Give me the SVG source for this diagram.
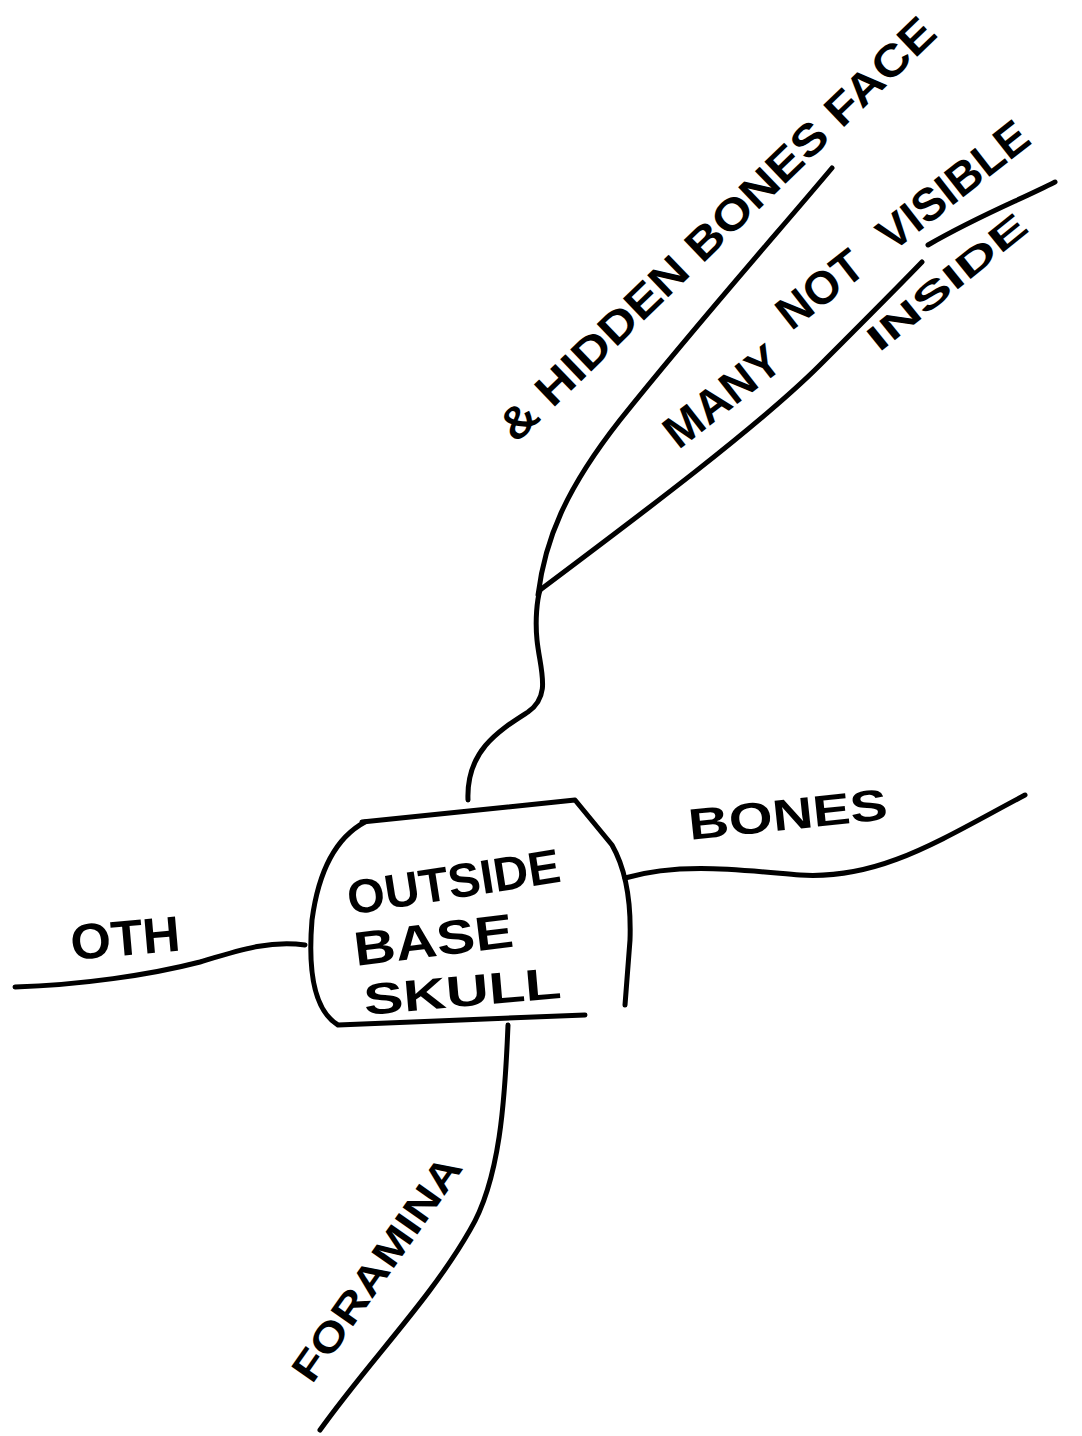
<svg xmlns="http://www.w3.org/2000/svg" width="1082" height="1436" viewBox="0 0 1082 1436">
<style>
.ln{fill:none;stroke:#000;stroke-width:5;stroke-linecap:round;stroke-linejoin:round}
.t{font-family:"Liberation Sans","DejaVu Sans",sans-serif;font-weight:bold;fill:#000}
</style>
<rect width="1082" height="1436" fill="#fff"/>
<g id="connectors">
<path class="ln" d="M 468 800 C 466 750 500 730 528 712 C 552 695 540 670 537 640 C 535 620 537 600 540 590"/>
<path class="ln" d="M 538 595 C 545 540 565 490 620 420 C 700 320 780 230 832 168"/>
<path class="ln" d="M 540 590 C 640 515 760 425 820 365 C 860 325 895 290 922 262"/>
<path class="ln" d="M 928 245 C 980 215 1020 200 1055 182"/>
<path class="ln" d="M 625 878 C 680 862 740 870 800 875 C 880 880 940 840 1025 795"/>
<path class="ln" d="M 305 945 C 270 940 240 950 200 962 C 150 975 80 985 15 987"/>
<path class="ln" d="M 508 1025 C 505 1100 500 1180 470 1230 C 430 1300 370 1360 320 1430"/>
</g>
<g id="center">
<path class="ln" d="M 362 822 L 575 800 L 612 845 Q 632 880 630 940 L 625 1005"/>
<path class="ln" d="M 365 822 Q 322 845 312 920 Q 305 1005 338 1025 L 585 1015"/>
<text class="t" font-size="48" transform="translate(350,915) rotate(-9)" textLength="215" lengthAdjust="spacingAndGlyphs">OUTSIDE</text>
<text class="t" font-size="48" transform="translate(356,966) rotate(-7)" textLength="160" lengthAdjust="spacingAndGlyphs">BASE</text>
<text class="t" font-size="44" transform="translate(365,1015) rotate(-5)" textLength="198" lengthAdjust="spacingAndGlyphs">SKULL</text>
</g>
<g id="oth"><text class="t" font-size="50" transform="translate(72,960) rotate(-5)" textLength="110" lengthAdjust="spacingAndGlyphs">OTH</text></g>
<g id="bones"><text class="t" font-size="44" transform="translate(690,840) rotate(-6)" textLength="200" lengthAdjust="spacingAndGlyphs">BONES</text></g>
<g id="foramina"><text class="t" font-size="40" transform="translate(312,1385) rotate(-55)" textLength="265" lengthAdjust="spacingAndGlyphs">FORAMINA</text></g>
<g id="hidden"><text class="t" font-size="44" transform="translate(516,444) rotate(-44)" textLength="588" lengthAdjust="spacingAndGlyphs">&amp; HIDDEN BONES FACE</text></g>
<g id="many"><text class="t" font-size="46" transform="translate(676,447) rotate(-38)"><tspan x="0" y="4">MANY</tspan><tspan x="162" y="-20">NOT</tspan><tspan x="290" y="-20">VISIBLE</tspan></text></g>
<g id="inside"><text class="t" font-size="36" transform="translate(879,353) rotate(-39)" textLength="195" lengthAdjust="spacingAndGlyphs">INSIDE</text></g>
</svg>
